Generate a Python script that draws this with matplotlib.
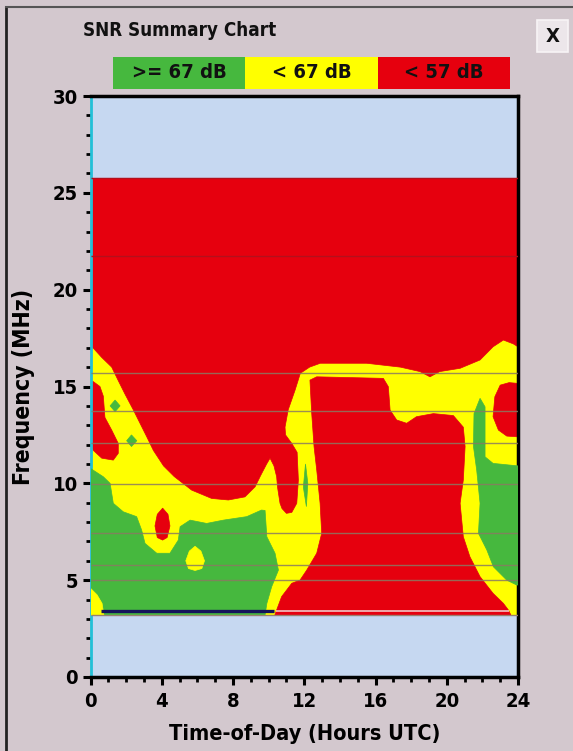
import matplotlib
matplotlib.use("Agg")
import matplotlib.pyplot as plt
from matplotlib import font_manager
from matplotlib.font_manager import FontProperties
from matplotlib.patches import Rectangle
from matplotlib.lines import Line2D

# ---------------- data (hour UTC, MHz) ----------------
legend_labels = [">= 67 dB", "< 67 dB", "< 57 dB"]
band_bottom = 3.2
band_top = 25.75

# frequencies of analysed broadcast bands (horizontal lines)
grid_freqs = [15.71, 13.73, 12.06, 9.95, 7.45, 5.77, 5.02]
red_line_freqs = [25.75, 21.75]

# "< 57 dB" regions
red_top = [(0, 25.75), (24, 25.75), (24, 17.05), (23.74, 17.2), (23.18, 17.4), (22.6, 17.05),
           (21.87, 16.37), (20.75, 15.94), (19.6, 15.77), (19.06, 15.5), (18.5, 15.77),
           (17.4, 16.0), (15.5, 16.2), (12.9, 16.2), (12.3, 16.0), (11.78, 15.68),
           (11.48, 14.8), (11.1, 13.8), (10.92, 12.9), (10.95, 12.5), (11.3, 12.06),
           (11.6, 11.6), (11.67, 10.17), (11.58, 8.97), (11.3, 8.5), (11.0, 8.45),
           (10.75, 8.7), (10.64, 8.97), (10.5, 9.8), (10.45, 10.34), (10.3, 10.9),
           (10.08, 11.3), (9.89, 11.0), (9.55, 10.4), (9.24, 9.82), (8.67, 9.3),
           (7.74, 9.14), (6.8, 9.22), (5.68, 9.65), (4.7, 10.35), (4.1, 10.9),
           (3.53, 11.7), (3.16, 12.4), (2.78, 13.1), (2.40, 13.8), (1.94, 14.6),
           (1.56, 15.3), (1.19, 16.0), (0.63, 16.5), (0, 17.14)]
red_left = [(0, 15.3), (0.16, 15.25), (0.53, 15.0), (0.72, 14.5), (0.81, 13.4), (1.19, 12.75),
            (1.56, 12.06), (1.56, 11.55), (1.28, 11.2), (0.63, 11.3), (0.16, 11.7), (0, 12.0)]
red_mid = [(12.32, 15.33), (12.7, 15.5), (16.44, 15.42), (16.72, 14.99), (16.82, 13.78),
           (17.19, 13.27), (17.75, 13.1), (18.3, 13.44), (19.25, 13.6), (20.37, 13.5),
           (20.93, 12.9), (21.03, 11.9), (20.93, 10.17), (20.75, 8.97), (20.93, 7.24),
           (21.3, 6.21), (21.87, 5.18), (22.6, 4.32), (23.18, 3.8), (23.46, 3.46),
           (23.6, 3.2), (10.35, 3.2), (10.45, 3.46), (10.73, 4.15), (11.3, 4.84),
           (11.76, 5.0), (12.14, 5.52), (12.7, 6.39), (12.98, 7.42), (12.89, 8.97),
           (12.7, 10.69), (12.55, 11.9), (12.42, 13.6)]
red_right = [(24, 15.16), (23.5, 15.2), (23.0, 15.07), (22.7, 14.47), (22.6, 13.44),
             (22.9, 12.75), (23.37, 12.44), (24, 12.4)]
red_island = [(4.05, 8.72), (4.35, 8.4), (4.46, 7.8), (4.3, 7.2), (4.05, 7.07),
              (3.75, 7.2), (3.62, 7.8), (3.75, 8.4)]

# ">= 67 dB" regions
green_left = [(0, 3.2), (0, 10.77), (0.72, 10.34), (1.1, 10.0), (1.28, 8.97), (1.84, 8.53),
              (2.59, 8.28), (2.87, 7.59), (3.06, 6.9), (3.72, 6.39), (4.46, 6.39), (4.93, 7.07),
              (5.03, 7.76), (5.59, 8.1), (6.52, 7.93), (7.46, 8.1), (8.77, 8.28), (9.6, 8.62),
              (9.8, 8.6), (9.9, 7.24), (10.36, 6.39), (10.55, 5.52), (10.17, 4.66),
              (9.9, 3.8), (9.8, 3.2)]
green_right = [(21.87, 14.39), (22.15, 13.95), (22.15, 11.37), (22.6, 11.03), (24, 10.9),
               (24, 4.75), (23.93, 4.75), (23.37, 5.0), (22.62, 5.69), (22.25, 6.56),
               (21.78, 7.42), (21.87, 8.97), (21.68, 10.69), (21.5, 11.9), (21.53, 13.6)]
green_spot_a = [(1.38, 14.3), (1.66, 14.0), (1.38, 13.7), (1.1, 14.0)]
green_spot_b = [(2.3, 12.5), (2.6, 12.2), (2.3, 11.9), (2.03, 12.2)]
green_sliver = [(12.07, 11.0), (12.2, 10.0), (12.12, 8.8), (11.95, 9.8)]

# "< 67 dB" islands inside green
yellow_island = [(5.87, 6.75), (6.2, 6.5), (6.4, 6.0), (6.25, 5.6), (5.87, 5.5),
                 (5.5, 5.6), (5.35, 6.0), (5.55, 6.5)]
yellow_corner = [(0, 3.2), (0, 4.58), (0.37, 4.24), (0.65, 3.8), (0.75, 3.2)]

# ---------------- style ----------------
GREEN = "#46b83e"
YELLOW = "#ffff00"
RED = "#e6000e"
BLUE = "#c6d8f1"
BG = "#d3c8ce"

# pick a condensed bold face if one is installed
FONT_PROPS = dict(family=["Liberation Sans", "DejaVu Sans"], weight="bold")
CONDENSED = False
for fam in ["Liberation Sans Narrow", "DejaVu Sans"]:
    try:
        path = font_manager.findfont(FontProperties(family=fam, weight="bold", stretch="condensed"),
                                     fallback_to_default=False)
    except Exception:
        continue
    if "Narrow" in path or "Condensed" in path:
        FONT_PROPS = dict(family=fam, weight="bold", stretch="condensed")
        CONDENSED = True
        break

plt.rcParams["font.family"] = FONT_PROPS["family"]
plt.rcParams["font.weight"] = "bold"
if CONDENSED:
    plt.rcParams["font.stretch"] = "condensed"

# font sizes (pt)
SZ_TITLE = 13.5 if CONDENSED else 14
SZ_LEGEND = 14.5 if CONDENSED else 14
SZ_TICK = 14.5 if CONDENSED else 14
SZ_XLABEL = 15.6 if CONDENSED else 15
SZ_YLABEL = 16.5 if CONDENSED else 16

W, H = 573, 751
fig = plt.figure(figsize=(W / 100, H / 100), dpi=100)
fig.patch.set_facecolor(BG)

def fx(px):
    return px / W

def fy(py):
    return 1 - py / H

ax = fig.add_axes([fx(90.5), fy(677), fx(518) - fx(90.5), fy(96) - fy(677)])
ax.set_facecolor(BLUE)
ax.set_xlim(0, 24)
ax.set_ylim(0, 30)

# colored band (yellow base)
ax.fill_between([0, 24], band_bottom, band_top, color=YELLOW, lw=0, zorder=1)
for poly in [red_top, red_left, red_mid, red_right]:
    xs, ys = zip(*poly)
    ax.fill(xs, ys, color=RED, lw=0.5, ec=RED, zorder=2)
for poly in [green_left, green_right, green_spot_a, green_spot_b, green_sliver]:
    xs, ys = zip(*poly)
    ax.fill(xs, ys, color=GREEN, lw=0.5, ec=GREEN, zorder=3)
for poly in [yellow_island, yellow_corner]:
    xs, ys = zip(*poly)
    ax.fill(xs, ys, color=YELLOW, lw=0.5, ec=YELLOW, zorder=4)
xs, ys = zip(*red_island)
ax.fill(xs, ys, color=RED, lw=0.5, ec=RED, zorder=4)

# band lines
ax.hlines(grid_freqs, 0, 24, color="#8a7a62", lw=1.0, alpha=0.85, zorder=5)
ax.hlines(red_line_freqs, 0, 24, color="#b3101c", lw=1.0, zorder=5)
ax.hlines([3.42], 0.6, 10.3, color="#14145a", lw=2.4, zorder=6)
ax.hlines([3.42], 10.4, 23.5, color="#f2c4c4", lw=1.2, zorder=6)
ax.hlines([3.18], 0, 24, color="#9a8070", lw=1.0, zorder=6)

# spines
for s in ["top", "right", "bottom"]:
    ax.spines[s].set_color("black")
    ax.spines[s].set_linewidth(2.5)
ax.spines["left"].set_color("#22c0d8")
ax.spines["left"].set_linewidth(2)

ax.set_xticks(range(0, 25, 4))
ax.set_xticks(range(0, 25, 1), minor=True)
ax.set_yticks(range(0, 31, 5))
ax.set_yticks(range(0, 31, 1), minor=True)
ax.tick_params(axis="both", which="major", direction="out", length=6, width=2.2,
               labelsize=SZ_TICK, color="black")
ax.tick_params(axis="both", which="minor", direction="out", length=3.5, width=2, color="black")
ax.tick_params(axis="x", which="major", pad=5)
ax.tick_params(axis="y", which="major", pad=3)
for lab in ax.get_xticklabels() + ax.get_yticklabels():
    lab.set_fontweight("bold")

ax.set_xlabel("Time-of-Day (Hours UTC)", fontsize=SZ_XLABEL, fontweight="bold", labelpad=9)
ax.set_ylabel("Frequency (MHz)", fontsize=SZ_YLABEL, fontweight="bold", labelpad=13)

# title
fig.text(fx(180), fy(31), "SNR Summary Chart", ha="center", va="center",
         fontsize=SZ_TITLE, fontweight="bold", color="#111111")

# legend boxes
leg_colors = [GREEN, YELLOW, RED]
leg_x = [113, 245, 378, 510]
for i, (lab, col) in enumerate(zip(legend_labels, leg_colors)):
    fig.add_artist(Rectangle((fx(leg_x[i]), fy(89)), fx(leg_x[i + 1]) - fx(leg_x[i]),
                             fy(57) - fy(89), transform=fig.transFigure,
                             facecolor=col, edgecolor="none"))
    fig.text(fx((leg_x[i] + leg_x[i + 1]) / 2), fy(73), lab, ha="center", va="center",
             fontsize=SZ_LEGEND, fontweight="bold", color="#111111")

# close button
fig.add_artist(Rectangle((fx(537), fy(52)), fx(568) - fx(537), fy(20) - fy(52),
                         transform=fig.transFigure, facecolor="#ece6ea",
                         edgecolor="#f8f4f6", lw=1.2))
fig.text(fx(552.5), fy(36), "X", ha="center", va="center", fontsize=SZ_LEGEND,
         fontweight="bold", color="#111111")

# window frame
fig.add_artist(Line2D([fx(6), fx(6)], [0, fy(7)], transform=fig.transFigure,
                      color="#222222", lw=2))
fig.add_artist(Line2D([fx(6), 1], [fy(7), fy(7)], transform=fig.transFigure,
                      color="#555555", lw=1.5))

fig.savefig("out.png", dpi=100, facecolor=BG)
